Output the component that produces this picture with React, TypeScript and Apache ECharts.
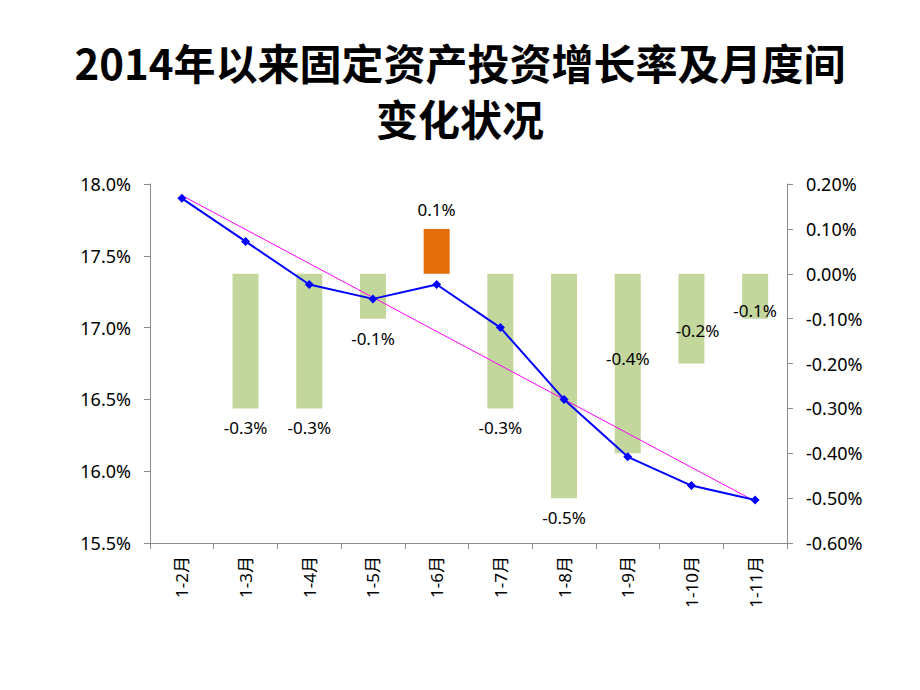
import React, { useEffect, useRef } from "react";
import * as echarts from "echarts";

const titleLines = ["2014年以来固定资产投资增长率及月度间", "变化状况"];
const categories = ["1-2月", "1-3月", "1-4月", "1-5月", "1-6月", "1-7月", "1-8月", "1-9月", "1-10月", "1-11月"];
// cumulative growth rate (%) - left axis
const growthRate = [17.9, 17.6, 17.3, 17.2, 17.3, 17.0, 16.5, 16.1, 15.9, 15.8];
// month-on-month change (percentage points) - right axis
const monthlyChange: (number | null)[] = [null, -0.3, -0.3, -0.1, 0.1, -0.3, -0.5, -0.4, -0.2, -0.1];
// linear trendline endpoints
const trendStart = 17.92;
const trendEnd = 15.79;

const leftTicks = { min: 15.5, max: 18.0, interval: 0.5 };
const rightTicks = { min: -0.6, max: 0.2, interval: 0.1 };

const FONT = "'Noto Sans', 'Noto Sans CJK SC', sans-serif";

export default function App() {
  const ref = useRef<HTMLDivElement>(null);
  useEffect(() => {
    if (!ref.current) return;
    const chart = echarts.init(ref.current, undefined, { renderer: "svg" });

    const labelOverrides: Record<number, any> = {
      7: { position: "inside", offset: [0, -5] },
      8: { position: "inside", offset: [6, 12] },
      9: { position: "inside", offset: [0, 14] },
    };

    const barData = monthlyChange.map((v, i) => {
      if (v === null) return "-";
      const pos = v > 0 ? "top" : "bottom";
      const lbl = labelOverrides[i] || { position: pos, distance: 11 };
      return {
        value: v,
        itemStyle: { color: v > 0 ? "#E46C0A" : "#C3D69B" },
        label: { show: true, ...lbl },
      };
    });

    const trendData = categories.map((_, i) =>
      i === 0 ? trendStart : i === categories.length - 1 ? trendEnd : null
    );

    const axisLineStyle = { color: "#8c8c8c", width: 1 };
    const titleStyle = {
      fontFamily: "'Noto Sans CJK SC', sans-serif",
      fontWeight: "bold",
      fontSize: 42,
      fill: "#000000",
      textAlign: "center",
      textVerticalAlign: "middle",
    };

    chart.setOption({
      animation: false,
      backgroundColor: "#ffffff",
      graphic: [
        { type: "text", x: 460, y: 61, style: { ...titleStyle, text: titleLines[0] } },
        { type: "text", x: 460, y: 117, style: { ...titleStyle, text: titleLines[1] } },
      ],
      grid: { left: 150, right: 133, top: 184, bottom: 147, containLabel: false },
      xAxis: {
        type: "category",
        data: categories,
        boundaryGap: true,
        axisLine: { show: true, onZero: false, lineStyle: axisLineStyle },
        axisTick: { show: true, length: 6, alignWithLabel: false, lineStyle: axisLineStyle },
        axisLabel: {
          rotate: 90,
          interval: 0,
          margin: 13,
          color: "#000000",
          fontSize: 17,
          fontFamily: FONT,
        },
        splitLine: { show: false },
      },
      yAxis: [
        {
          type: "value",
          position: "left",
          min: leftTicks.min,
          max: leftTicks.max,
          interval: leftTicks.interval,
          axisLine: { show: true, lineStyle: axisLineStyle },
          axisTick: { show: true, length: 6, lineStyle: axisLineStyle },
          axisLabel: {
            margin: 19,
            color: "#000000",
            fontSize: 18,
            fontFamily: FONT,
            formatter: (v: number) => v.toFixed(1) + "%",
          },
          splitLine: { show: false },
        },
        {
          type: "value",
          position: "right",
          min: rightTicks.min,
          max: rightTicks.max,
          interval: rightTicks.interval,
          axisLine: { show: true, lineStyle: axisLineStyle },
          axisTick: { show: true, length: 6, lineStyle: axisLineStyle },
          axisLabel: {
            margin: 19,
            color: "#000000",
            fontSize: 18,
            fontFamily: FONT,
            formatter: (v: number) => v.toFixed(2) + "%",
          },
          splitLine: { show: false },
        },
      ],
      series: [
        {
          name: "月度变化",
          type: "bar",
          yAxisIndex: 1,
          barWidth: 26,
          data: barData,
          label: {
            show: true,
            color: "#000000",
            fontSize: 17,
            fontFamily: FONT,
            formatter: (p: any) => Number(p.value).toFixed(1) + "%",
          },
          z: 1,
        },
        {
          name: "趋势",
          type: "line",
          yAxisIndex: 0,
          data: trendData,
          connectNulls: true,
          symbol: "none",
          lineStyle: { color: "#FF00FF", width: 1 },
          z: 2,
        },
        {
          name: "增长率",
          type: "line",
          yAxisIndex: 0,
          data: growthRate,
          symbol: "diamond",
          symbolSize: 9,
          itemStyle: { color: "#0000FF" },
          lineStyle: { color: "#0000FF", width: 2 },
          z: 3,
        },
      ],
    });
    return () => chart.dispose();
  }, []);

  return (
    <div
      ref={ref}
      style={{ position: "absolute", left: 0, top: 0, width: 920, height: 690 }}
    />
  );
}
